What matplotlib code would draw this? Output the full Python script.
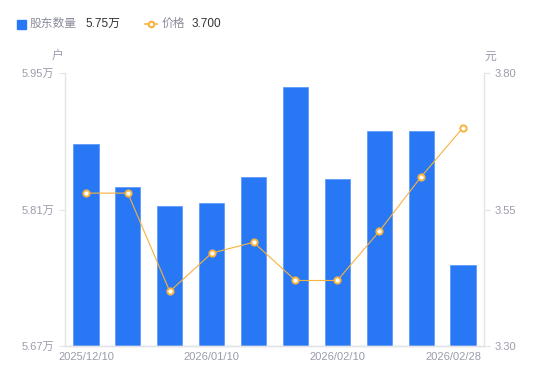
import numpy as np
import matplotlib
matplotlib.use('Agg')
from matplotlib import pyplot as plt
from matplotlib.lines import Line2D

plt.rcParams['font.family'] = ['Liberation Sans', 'Noto Sans CJK SC', 'DejaVu Sans']

dates = ['2025/12/10', '2025/12/20', '2025/12/31', '2026/01/10', '2026/01/20',
         '2026/01/31', '2026/02/10', '2026/02/13', '2026/02/20', '2026/02/28']
holders = [5.877, 5.833, 5.8136, 5.8167, 5.843, 5.9356, 5.841, 5.8905, 5.8905, 5.753]
price = [3.58, 3.58, 3.40, 3.47, 3.49, 3.42, 3.42, 3.51, 3.61, 3.70]
left_ticks = [5.67, 5.81, 5.95]
right_ticks = [3.30, 3.55, 3.80]

blue = '#2878f6'
orange = '#f8b23e'
gray = '#9a9cab'
line_gray = '#e3e4e8'

fig = plt.figure(figsize=(5.5, 3.81), dpi=100)
ax = fig.add_axes([65/550, 35/381, 419/550, 273/381])
ax2 = ax.twinx()

x = np.arange(len(dates))
ax.bar(x, holders, width=0.6, color=blue, edgecolor='#5f9bf8', linewidth=0.6, zorder=2)
ax.set_xlim(-0.5, len(dates) - 0.5)
ax.set_ylim(left_ticks[0], left_ticks[-1])
ax.set_yticks(left_ticks)
ax.set_yticklabels([f'{v:.2f}万' for v in left_ticks])

ax2.plot(x, price, color=orange, linewidth=0.8, marker='o', markersize=4.5,
         markerfacecolor='white', markeredgecolor=orange, markeredgewidth=1.4, zorder=3)
ax2.set_ylim(right_ticks[0], right_ticks[-1])
ax2.set_yticks(right_ticks)
ax2.set_yticklabels([f'{v:.2f}' for v in right_ticks])

# only a few dates are labelled; the last one sits flush with the right edge
show = [0, 3, 6, 9]
ax.set_xticks([0, 3, 6, 9.45])
ax.set_xticklabels([dates[i] for i in show])
ax.get_xticklabels()[-1].set_horizontalalignment('right')

for a in (ax, ax2):
    for s in a.spines.values():
        s.set_color(line_gray)
        s.set_linewidth(1)
    a.spines['top'].set_visible(False)
    a.tick_params(colors=gray, labelsize=8, length=4, width=0.8)
    a.tick_params(axis='y', color=line_gray)
ax.tick_params(axis='x', length=0, pad=4)
ax2.spines['left'].set_visible(False)
ax.spines['right'].set_visible(False)

fig.text(58/550, 1 - 57/381, '户', color=gray, fontsize=8.5, ha='center', va='center')
fig.text(490/550, 1 - 57/381, '元', color=gray, fontsize=8.5, ha='center', va='center')

# legend
fig.patches.append(plt.Rectangle((17/550, 1 - 29/381), 9/550, 9/381, transform=fig.transFigure,
                                 color=blue, figure=fig))
fig.text(30/550, 1 - 24/381, '股东数量', color='#8a8c99', fontsize=8.5, va='center')
fig.text(85/550, 1 - 24/381, '5.75万', color='#333333', fontsize=8.5, va='center')
fig.add_artist(Line2D([145/550, 151/550, 157/550], [1 - 24/381] * 3, transform=fig.transFigure,
                      color=orange, linewidth=1.2, marker='o', markersize=4, markevery=[1],
                      markerfacecolor='white', markeredgecolor=orange, markeredgewidth=1.5))
fig.text(162/550, 1 - 24/381, '价格', color='#8a8c99', fontsize=8.5, va='center')
fig.text(192/550, 1 - 24/381, '3.700', color='#333333', fontsize=8.5, va='center')

plt.savefig('out.png', dpi=100)
